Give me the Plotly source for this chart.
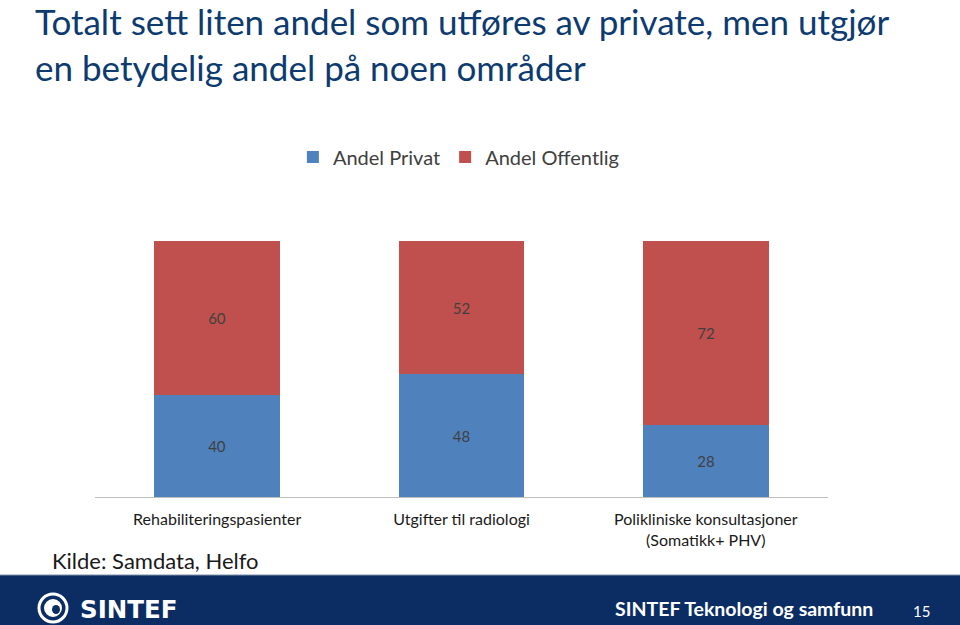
import plotly.graph_objects as go

categories = ["Rehabiliteringspasienter", "Utgifter til radiologi",
              "Polikliniske konsultasjoner<br>(Somatikk+ PHV)"]
andel_privat = [40, 48, 28]
andel_offentlig = [60, 52, 72]
series_names = ["Andel Privat", "Andel Offentlig"]

FONT = "Lato, 'Open Sans', sans-serif"
BLUE = "#4f81bd"
RED = "#c0504d"
NAVY = "#0b2d64"

fig = go.Figure()
for name, vals, col in [(series_names[0], andel_privat, BLUE),
                        (series_names[1], andel_offentlig, RED)]:
    fig.add_trace(go.Bar(
        x=categories, y=vals, name=name, marker=dict(color=col, line=dict(width=0)),
        width=0.515, texttemplate="%{y}", textposition="inside",
        insidetextanchor="middle", textangle=0,
        textfont=dict(family=FONT, size=15, color="#404040"),
        hoverinfo="skip",
    ))

fig.update_layout(
    width=960, height=625, margin=dict(l=0, r=0, t=0, b=0),
    paper_bgcolor="white", plot_bgcolor="white",
    barmode="stack", bargap=0,
    font=dict(family=FONT, color="#404040"),
    xaxis=dict(domain=[95/960, 828/960], showline=True, linecolor="#bfbfbf",
               linewidth=1, ticks="", showgrid=False,
               tickfont=dict(family=FONT, size=16, color="#1a1a1a"),
               ticklabelstandoff=8),
    yaxis=dict(domain=[(625-497)/625, (625-241)/625], range=[0, 100],
               visible=False, showgrid=False),
    legend=dict(orientation="h", x=0.478, xanchor="center", y=(625-157)/625,
                yanchor="middle", font=dict(family=FONT, size=20, color="#404040"),
                itemwidth=30, traceorder="normal", itemclick=False),
    showlegend=True,
)

# Title
fig.add_annotation(xref="paper", yref="paper", x=33/960, y=1 + 2/625,
                   xanchor="left", yanchor="top", align="left", showarrow=False,
                   text="Totalt sett liten andel som utføres av private, men utgjør<br>en betydelig andel på noen områder",
                   font=dict(family=FONT, size=35, color="#0d3b70"))

# Source
fig.add_annotation(xref="paper", yref="paper", x=50/960, y=(625-560)/625,
                   xanchor="left", yanchor="middle", showarrow=False,
                   text="Kilde: Samdata, Helfo",
                   font=dict(family=FONT, size=22, color="#1a1a1a"))

# Footer band
fig.add_shape(type="rect", xref="paper", yref="paper", x0=0, x1=1, y0=0,
              y1=50/625, fillcolor=NAVY, line=dict(width=0), layer="below")
fig.add_shape(type="line", xref="paper", yref="paper", x0=0, x1=1,
              y0=50/625, y1=50/625, line=dict(color="#8090a8", width=1))

# Logo circle
cx, cy = 53, 608
def px(x, y):
    return x/960, (625 - y)/625
x0, y0 = px(cx - 14, cy + 14)
x1, y1 = px(cx + 14, cy - 14)
fig.add_shape(type="circle", xref="paper", yref="paper", x0=x0, y0=y0, x1=x1, y1=y1,
              line=dict(color="white", width=3), fillcolor=NAVY)
x0, y0 = px(cx - 8, cy + 8)
x1, y1 = px(cx + 8, cy - 8)
fig.add_shape(type="circle", xref="paper", yref="paper", x0=x0, y0=y0, x1=x1, y1=y1,
              line=dict(color="white", width=2), fillcolor="white")
x0, y0 = px(cx - 1, cy + 6)
x1, y1 = px(cx + 7, cy - 3)
fig.add_shape(type="circle", xref="paper", yref="paper", x0=x0, y0=y0, x1=x1, y1=y1,
              line=dict(width=0), fillcolor=NAVY)

fig.add_annotation(xref="paper", yref="paper", x=78/960, y=(625-609)/625,
                   xanchor="left", yanchor="middle", showarrow=False,
                   text="<b>SINTEF</b>",
                   font=dict(family="'DejaVu Sans', sans-serif", size=24.5, color="white"))

fig.add_annotation(xref="paper", yref="paper", x=613/960, y=(625-608)/625,
                   xanchor="left", yanchor="middle", showarrow=False,
                   text="<b>SINTEF Teknologi og samfunn</b>",
                   font=dict(family=FONT, size=19.5, color="white"))
fig.add_annotation(xref="paper", yref="paper", x=921/960, y=(625-611)/625,
                   xanchor="center", yanchor="middle", showarrow=False,
                   text="15", font=dict(family=FONT, size=15, color="white"))

fig.write_html("out.html", config={"displayModeBar": False},
               post_script="document.body.style.margin='0';")
